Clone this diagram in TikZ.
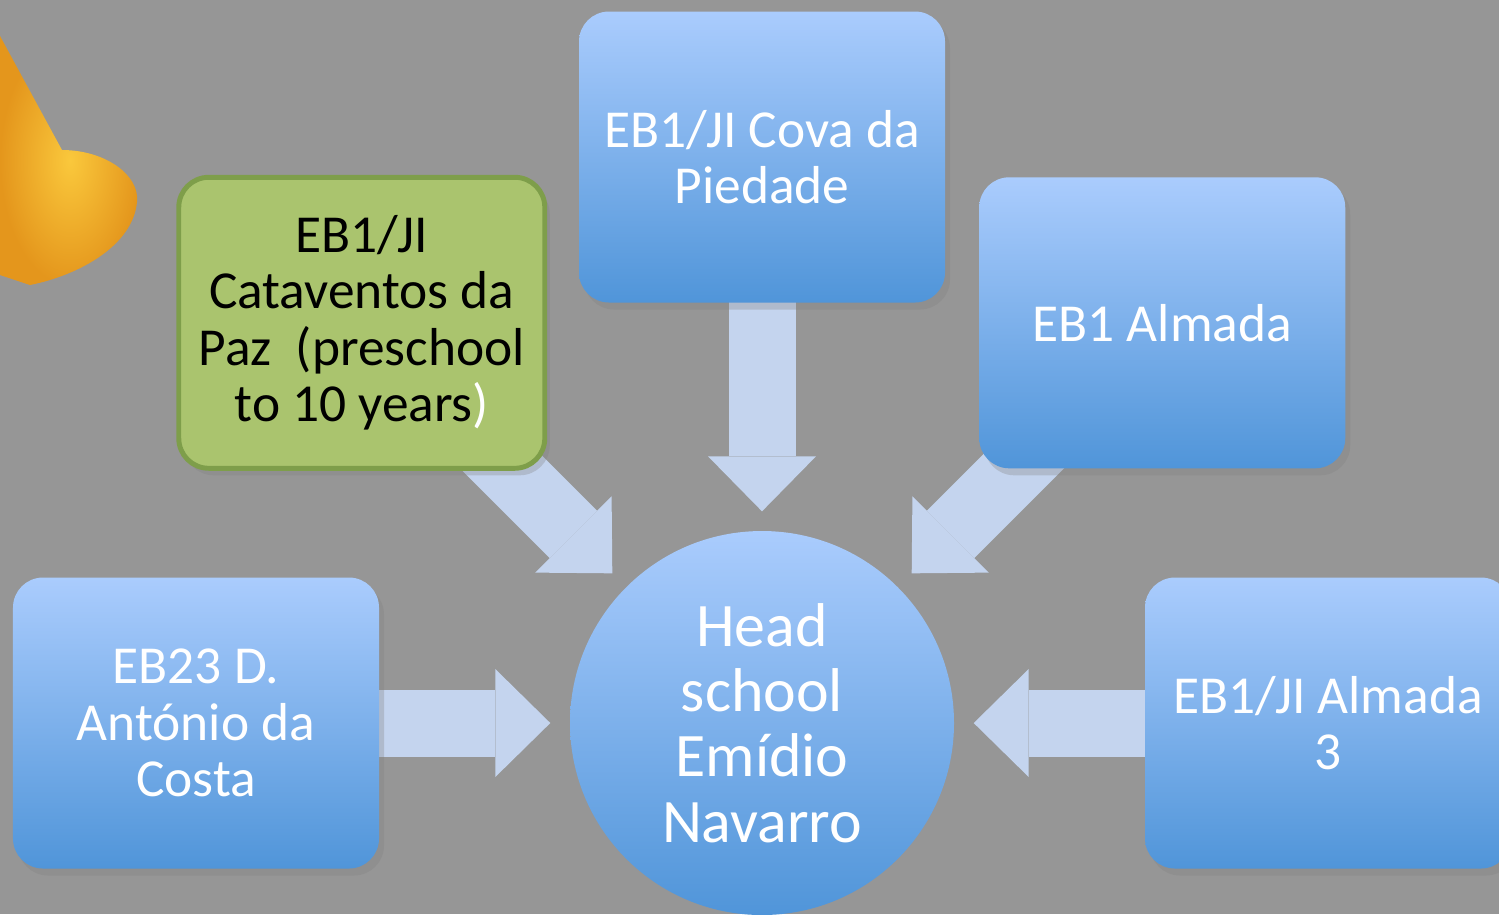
\documentclass[tikz,border=0pt]{standalone}
\usepackage{fontspec}
\setmainfont{Carlito}
\usetikzlibrary{arrows.meta,positioning,shadows,backgrounds}

\definecolor{wall}{RGB}{150,150,150}
\definecolor{boxtop}{RGB}{170,204,253}
\definecolor{boxbot}{RGB}{80,149,217}
\definecolor{flowblue}{RGB}{196,212,238}
\definecolor{leaf}{RGB}{170,196,110}
\definecolor{leafline}{RGB}{126,158,74}
\definecolor{cone}{RGB}{228,150,28}
\definecolor{conelight}{RGB}{250,200,60}

\begin{document}
\begin{tikzpicture}[node distance=5.66cm,
    school/.style={rectangle, rounded corners=0.3cm, minimum width=3.66cm, minimum height=2.91cm,
      top color=boxtop, bottom color=boxbot, text=white, align=center,
      font=\fontsize{15.2}{16}\selectfont,
      drop shadow={opacity=0.3, shadow xshift=0.5mm, shadow yshift=-0.7mm}},
    preschool/.style={top color=leaf, bottom color=leaf, draw=leafline, line width=1.4pt, text=black},
    hub/.style={circle, minimum size=3.84cm, inner sep=0pt,
      top color=boxtop, bottom color=boxbot, text=white, align=center,
      font=\fontsize{17.6}{18.6}\selectfont},
    flow/.style={draw=flowblue, line width=0.67cm,
      -{Triangle[length=0.55cm, width=1.08cm, line width=0pt]}, shorten >=0.19cm}]
  \useasboundingbox (0,0) rectangle (14.99,-9.14);

  \node[hub]              (head) at (7.62,-7.23)  {Head\\school\\Emídio\\Navarro};
  \node[school]           (cova) [above of=head]       {EB1/JI Cova da\\Piedade};
  \node[school,preschool] (paz)  [above left of=head]  {EB1/JI\\Cataventos da\\Paz\ \ (preschool\\to 10 years\textcolor{white}{)}};
  \node[school]           (eb1)  [above right of=head] {EB1 Almada};
  \node[school]           (eb23) [left of=head]        {EB23 D.\\António da\\Costa};
  \node[school]           (alm3) [right of=head]       {EB1/JI Almada\\3};

  \begin{scope}[on background layer]
    % wall and cone
    \fill[wall] (0,0) rectangle (14.99,-9.14);
    \shade[inner color=conelight, outer color=cone] (0,-0.36) -- (0.62,-1.50)
      .. controls (1.05,-1.50) and (1.40,-1.75) .. (1.37,-2.02)
      .. controls (1.33,-2.45) and (0.80,-2.75) .. (0.30,-2.85) -- (0,-2.75) -- cycle;

    \path (cova.center) edge[flow] (head)
          (paz.center)  edge[flow] (head)
          (eb1.center)  edge[flow] (head)
          (eb23.center) edge[flow] (head)
          (alm3.center) edge[flow] (head);
  \end{scope}
\end{tikzpicture}
\end{document}
